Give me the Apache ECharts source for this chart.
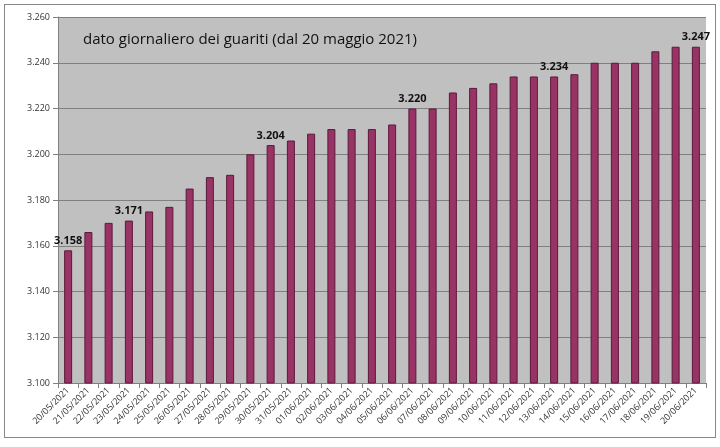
<!DOCTYPE html>
<html>
<head>
<meta charset="utf-8">
<script src="https://cdn.jsdelivr.net/npm/echarts@6/dist/echarts.min.js"></script>
<style>
  html, body { margin: 0; padding: 0; background: #fff; }
  #frame { position: absolute; left: 4px; top: 4px; width: 710px; height: 432px; border: 1px solid #888; }
  #chart { width: 720px; height: 447px; }
</style>
</head>
<body>
<div id="frame"></div>
<div id="chart"></div>
<script>
const dates = ['20/05/2021','21/05/2021','22/05/2021','23/05/2021','24/05/2021','25/05/2021','26/05/2021','27/05/2021',
  '28/05/2021','29/05/2021','30/05/2021','31/05/2021','01/06/2021','02/06/2021','03/06/2021','04/06/2021',
  '05/06/2021','06/06/2021','07/06/2021','08/06/2021','09/06/2021','10/06/2021','11/06/2021','12/06/2021',
  '13/06/2021','14/06/2021','15/06/2021','16/06/2021','17/06/2021','18/06/2021','19/06/2021','20/06/2021'];
const guariti = [3158, 3166, 3170, 3171, 3175, 3177, 3185, 3190, 3191, 3200, 3204, 3206, 3209, 3211, 3211, 3211,
  3213, 3220, 3220, 3227, 3229, 3231, 3234, 3234, 3234, 3235, 3240, 3240, 3240, 3245, 3247, 3247];
// indices whose value is written above the bar
const labelled = [0, 3, 10, 17, 24, 31];

const fmt = v => (v / 1000).toFixed(3);

const chart = echarts.init(document.getElementById('chart'));
chart.setOption({
  animation: false,
  textStyle: { fontFamily: 'Open Sans' },
  grid: { left: 58, right: 14, top: 17, bottom: 64, backgroundColor: '#c0c0c0', show: true, borderWidth: 0 },
  graphic: [{
    type: 'text', left: 83, top: 32,
    style: { text: 'dato giornaliero dei guariti (dal 20 maggio 2021)', fontSize: 15, fill: '#111', fontFamily: 'Open Sans' }
  }],
  xAxis: {
    type: 'category',
    data: dates,
    axisLine: { lineStyle: { color: '#808080' } },
    axisTick: { show: true, alignWithLabel: false, lineStyle: { color: '#808080' } },
    axisLabel: { rotate: 45, fontSize: 9, color: '#333', interval: 0, margin: 6 }
  },
  yAxis: {
    type: 'value',
    min: 3100, max: 3260, interval: 20,
    axisLine: { show: true, lineStyle: { color: '#808080' } },
    axisTick: { show: true, lineStyle: { color: '#808080' } },
    axisLabel: { fontSize: 9, color: '#333', formatter: fmt },
    splitLine: { lineStyle: { color: '#808080', width: 1 } }
  },
  series: [{
    type: 'bar',
    barWidth: 8,
    data: guariti.map((v, i) => ({
      value: v,
      label: { show: labelled.includes(i) }
    })),
    itemStyle: { color: '#993366', borderColor: '#5a1a3a', borderWidth: 1 },
    label: {
      position: 'top', distance: 4, fontSize: 11, fontWeight: 'bold', color: '#111',
      formatter: p => fmt(p.value)
    }
  }]
});
</script>
</body>
</html>
